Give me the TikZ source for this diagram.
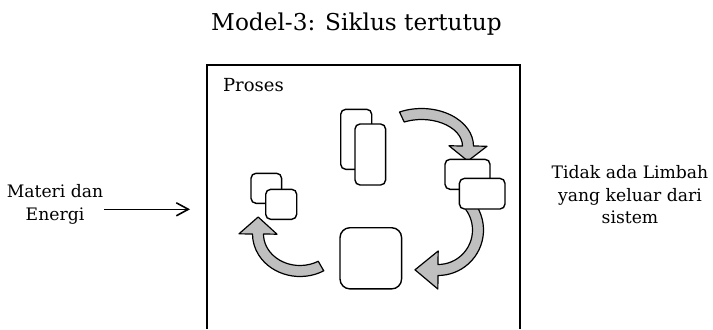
\documentclass[tikz,border=0pt]{standalone}
\usepackage{fontspec}
\setmainfont{DejaVu Serif}
\usetikzlibrary{calc,arrows.meta}
\tikzset{>={Straight Barb[length=6pt,width=6.5pt]}}
\tikzset{
  card/.style={draw, fill=white, rounded corners=2.5pt, line width=0.7pt, inner sep=0pt},
  flow/.style={draw, fill=black!25, line width=0.6pt, line join=round},
  note/.style={font=\fontsize{8.6}{11.15}\selectfont, align=center}
}

\begin{document}
\begin{tikzpicture}[x=0.5pt,y=0.5pt]
  \useasboundingbox (0,0) rectangle (713,329);
  \node[font=\fontsize{11.6}{14}\selectfont, anchor=base] (title) at (356.5,299) {Model-3: Siklus tertutup};
  \draw[line width=1pt] (207,0) -- (207,264) -- (520,264) -- (520,0);
  \node[note, font=\fontsize{9}{11}\selectfont, anchor=base west] (proses) at (216,237.3) {Proses};
  % cycle arrows
  \foreach \cx/\cy/\rx/\ry/\sa/\ea/\hl in {421.5/183/46.5/32/115/0/7.5, 438/99/40/40/42/-90/11.5, 300/95/42/37/300/180/8.5}{
    \coordinate (e) at ($(\cx,\cy)+(\ea:\rx+0 and \ry+0)$);
    \coordinate (n) at ($(\cx,\cy)+(\ea-1:\rx+0 and \ry+0)$);
    \draw[flow] ($(\cx,\cy)+(\sa:\rx+5.5 and \ry+5.5)$)
      arc[start angle=\sa, end angle=\ea, x radius=\rx+5.5, y radius=\ry+5.5]
      -- ($(e)!9.5pt!90:(n)$) -- ($(e)!\hl pt!(n)$) -- ($(e)!9.5pt!-90:(n)$)
      -- ($(\cx,\cy)+(\ea:\rx-5.5 and \ry-5.5)$)
      arc[start angle=\ea, end angle=\sa, x radius=\rx-5.5, y radius=\ry-5.5]
      -- cycle;
  }
  % blocks
  \node[card, minimum width=15.5pt, minimum height=30pt] (tallback) at (356.2,189.7) {};
  \node[card, minimum width=15.3pt, minimum height=30.5pt] (tallfront) at (370.3,174.5) {};
  \node[card, minimum width=22.5pt, minimum height=15pt] (rightback) at (467.5,154.7) {};
  \node[card, minimum width=22.8pt, minimum height=15.3pt] (rightfront) at (482.2,135.3) {};
  \node[card, minimum width=15.3pt, minimum height=15pt] (leftback) at (266.3,140.7) {};
  \node[card, minimum width=15.5pt, minimum height=15pt] (leftfront) at (281.2,124.7) {};
  \node[card, rounded corners=5pt, minimum width=30.8pt, minimum height=30.6pt] (store) at (370.8,70.7) {};
  % input and output
  \node[note] (input) at (55,124.6) {Materi dan\\Energi};
  \coordinate (entry) at (190,119.7);
  \draw[->, line width=0.8pt] ([xshift=-3pt]input.east |- entry) -- (entry);
  \node[note] (output) at (630,134.2) {Tidak ada Limbah\\yang keluar dari\\sistem};
\end{tikzpicture}
\end{document}
